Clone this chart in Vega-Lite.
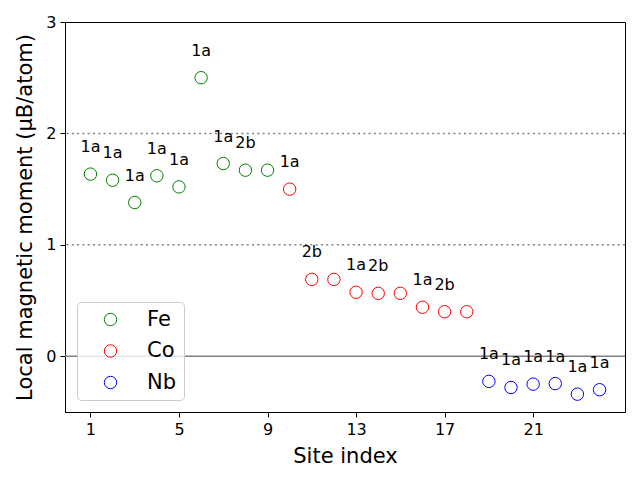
{
  "$schema": "https://vega.github.io/schema/vega-lite/v6.json",
  "autosize": "none",
  "width": 560,
  "height": 390,
  "padding": {"left": 65, "top": 22, "right": 15, "bottom": 68},
  "config": {
    "font": "DejaVu Sans",
    "view": {"stroke": "black", "strokeWidth": 1},
    "axis": {
      "grid": false,
      "domainColor": "black",
      "tickColor": "black",
      "tickSize": 5,
      "labelColor": "black",
      "labelFontSize": 16,
      "labelFont": "DejaVu Sans",
      "titleFont": "DejaVu Sans",
      "titleFontSize": 21,
      "titleFontWeight": "normal",
      "titleColor": "black",
      "labelPadding": 4
    }
  },
  "datasets": {
    "sites": [
      {"site": 1, "moment": 1.635, "element": "Fe", "label": "1a"},
      {"site": 2, "moment": 1.58, "element": "Fe", "label": "1a"},
      {"site": 3, "moment": 1.38, "element": "Fe", "label": "1a"},
      {"site": 4, "moment": 1.62, "element": "Fe", "label": "1a"},
      {"site": 5, "moment": 1.52, "element": "Fe", "label": "1a"},
      {"site": 6, "moment": 2.5, "element": "Fe", "label": "1a"},
      {"site": 7, "moment": 1.73, "element": "Fe", "label": "1a"},
      {"site": 8, "moment": 1.67, "element": "Fe", "label": "2b"},
      {"site": 9, "moment": 1.67, "element": "Fe", "label": ""},
      {"site": 10, "moment": 1.5, "element": "Co", "label": "1a"},
      {"site": 11, "moment": 0.69, "element": "Co", "label": "2b"},
      {"site": 12, "moment": 0.69, "element": "Co", "label": ""},
      {"site": 13, "moment": 0.575, "element": "Co", "label": "1a"},
      {"site": 14, "moment": 0.565, "element": "Co", "label": "2b"},
      {"site": 15, "moment": 0.565, "element": "Co", "label": ""},
      {"site": 16, "moment": 0.44, "element": "Co", "label": "1a"},
      {"site": 17, "moment": 0.4, "element": "Co", "label": "2b"},
      {"site": 18, "moment": 0.4, "element": "Co", "label": ""},
      {"site": 19, "moment": -0.225, "element": "Nb", "label": "1a"},
      {"site": 20, "moment": -0.28, "element": "Nb", "label": "1a"},
      {"site": 21, "moment": -0.25, "element": "Nb", "label": "1a"},
      {"site": 22, "moment": -0.245, "element": "Nb", "label": "1a"},
      {"site": 23, "moment": -0.34, "element": "Nb", "label": "1a"},
      {"site": 24, "moment": -0.3, "element": "Nb", "label": "1a"}
    ]
  },
  "layer": [
    {
      "data": {"values": [{"y": 1}, {"y": 2}]},
      "mark": {"type": "rule", "color": "#808080", "strokeWidth": 1.5, "strokeDash": [2, 3.3]},
      "encoding": {"y": {"field": "y", "type": "quantitative", "scale": {"domain": [-0.5, 3]}}}
    },
    {
      "data": {"values": [{"y": 0}]},
      "mark": {"type": "rule", "color": "#808080", "strokeWidth": 1.5},
      "encoding": {"y": {"field": "y", "type": "quantitative"}}
    },
    {
      "data": {"name": "sites"},
      "mark": {"type": "point", "shape": "circle", "filled": false, "size": 154, "strokeWidth": 1, "opacity": 1},
      "encoding": {
        "x": {
          "field": "site", "type": "quantitative",
          "scale": {"domain": [-0.15, 25.15], "nice": false, "zero": false},
          "axis": {"values": [1, 5, 9, 13, 17, 21], "title": "Site index", "titlePadding": 8}
        },
        "y": {
          "field": "moment", "type": "quantitative",
          "scale": {"domain": [-0.5, 3], "nice": false},
          "axis": {"values": [0, 1, 2, 3], "format": "d", "title": "Local magnetic moment (μB/atom)", "titlePadding": 10}
        },
        "color": {
          "field": "element", "type": "nominal",
          "scale": {"domain": ["Fe", "Co", "Nb"], "range": ["green", "red", "blue"]},
          "legend": {
            "title": null,
            "orient": "none",
            "legendX": 12,
            "legendY": 280,
            "padding": 7,
            "symbolOffset": 16,
            "labelOffset": 26,
            "symbolSize": 154,
            "symbolStrokeWidth": 1,
            "symbolType": "circle",
            "labelFontSize": 21,
            "labelFont": "DejaVu Sans",
            "labelColor": "black",
            "rowPadding": 9.5,
            "strokeColor": "#cccccc",
            "fillColor": "rgba(255,255,255,0.8)",
            "cornerRadius": 4
          }
        }
      }
    },
    {
      "data": {"name": "sites"},
      "mark": {"type": "text", "dy": -27, "fontSize": 16, "color": "black", "font": "DejaVu Sans"},
      "encoding": {
        "x": {"field": "site", "type": "quantitative"},
        "y": {"field": "moment", "type": "quantitative"},
        "text": {"field": "label"}
      }
    }
  ]
}
